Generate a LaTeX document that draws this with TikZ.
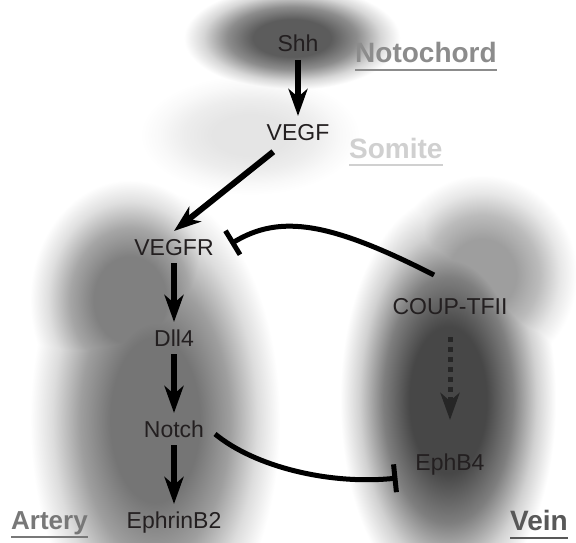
\documentclass[tikz,border=0pt]{standalone}
\usepackage{fontspec}
\setmainfont{Liberation Sans}
\usetikzlibrary{arrows.meta,positioning}
\definecolor{genetext}{RGB}{35,31,32}
\definecolor{notogray}{RGB}{140,140,140}
\definecolor{somitegray}{RGB}{208,208,208}
\definecolor{arterygray}{RGB}{120,120,120}
\definecolor{veingray}{RGB}{88,88,88}
\definecolor{blobcolor}{RGB}{100,100,100}
\pgfdeclareradialshading[blobcolor]{blob}{\pgfpoint{0bp}{0bp}}{%
  color(0bp)=(blobcolor); color(9bp)=(blobcolor);
  color(15bp)=(blobcolor!70!white); color(20.5bp)=(blobcolor!25!white);
  color(25bp)=(white); color(50bp)=(white)}
\newcommand{\glowblob}[4]{%
  \colorlet{blobcolor}{#4}%
  \shade[shading=blob] #1 ellipse [x radius=#2, y radius=#3];}
\tikzset{
  gene/.style={font=\fontsize{23}{23}\selectfont, text=genetext, inner sep=0pt,
               outer sep=8pt, text height=16pt, text depth=0pt},
  region/.style={font=\fontsize{28}{28}\selectfont\bfseries, inner sep=0pt,
                 text depth=0pt, anchor=base west},
  activate/.style={-{Stealth[length=27pt, width=19pt, inset=8pt]}, line width=6pt, black},
  inhibit/.style={-{Bar[width=28pt]}, line width=5pt, black},
  uline/.style={line width=2pt},
}
\begin{document}
\begin{tikzpicture}[x=1pt, y=-1pt, node distance=59pt]
\useasboundingbox (0,0) rectangle (576,543);
\fill[white] (0,0) rectangle (576,543);
\begin{scope}[blend mode=darken]
\glowblob{(292,38)}{108}{52}{black!64}
\glowblob{(250,135)}{110}{60}{black!10}
\glowblob{(130,300)}{100}{120}{black!50}
\glowblob{(155,420)}{125}{230}{black!54}
\glowblob{(482,275)}{95}{100}{black!38}
\glowblob{(448,400)}{108}{205}{black!72}
\end{scope}

\node[gene] (shh) at (298,44) {Shh};
\node[gene, below=56pt of shh] (vegf) {VEGF};
\node[gene] (vegfr) at (174,247) {VEGFR};
\node[gene, below=of vegfr] (dll4) {Dll4};
\node[gene, below=of dll4] (notch) {Notch};
\node[gene, below=of notch] (ephrinb2) {EphrinB2};
\node[gene] (couptf) at (450,306) {COUP-TFII};
\node[gene] (ephb4) at (450,462) {EphB4};

\node[region, text=notogray] (notochord) at (355,63) {Notochord};
\node[region, text=somitegray] (somite) at (349,158) {Somite};
\node[region, text=arterygray, font=\fontsize{26}{26}\selectfont\bfseries] (artery) at (11,529) {Artery};
\node[region, text=veingray] (vein) at (510,530) {Vein};

\draw[uline, notogray] ([yshift=-7pt]notochord.south west) -- ([yshift=-7pt]notochord.south east);
\draw[uline, somitegray] ([yshift=-7pt]somite.south west) -- ([yshift=-7pt]somite.south east);
\draw[uline, arterygray] ([yshift=-8pt]artery.south west) -- ([yshift=-8pt]artery.south east);
\draw[uline, veingray] ([yshift=-8pt]vein.south west) -- ([yshift=-8pt]vein.south east);

\draw[activate] (shh) -- (vegf);
\draw[activate, shorten <=6pt] (vegf) -- (vegfr.north);
\draw[activate] (vegfr) -- (dll4);
\draw[activate] (dll4) -- (notch);
\draw[activate] (notch) -- (ephrinb2);
\draw[activate, line width=5pt, black!85, dash pattern=on 5pt off 5pt,
      shorten <=15pt, shorten >=26pt] (couptf) -- (ephb4);
\draw[inhibit] ([shift={(-16pt,15pt)}]couptf.north) .. controls (330,222) and (280,214) .. ([shift={(9pt,3pt)}]vegfr.east);
\draw[inhibit] ([shift={(3pt,-5pt)}]notch.east) .. controls (255,467) and (330,485) .. ([shift={(-10pt,-16pt)}]ephb4.west);
\end{tikzpicture}
\end{document}
